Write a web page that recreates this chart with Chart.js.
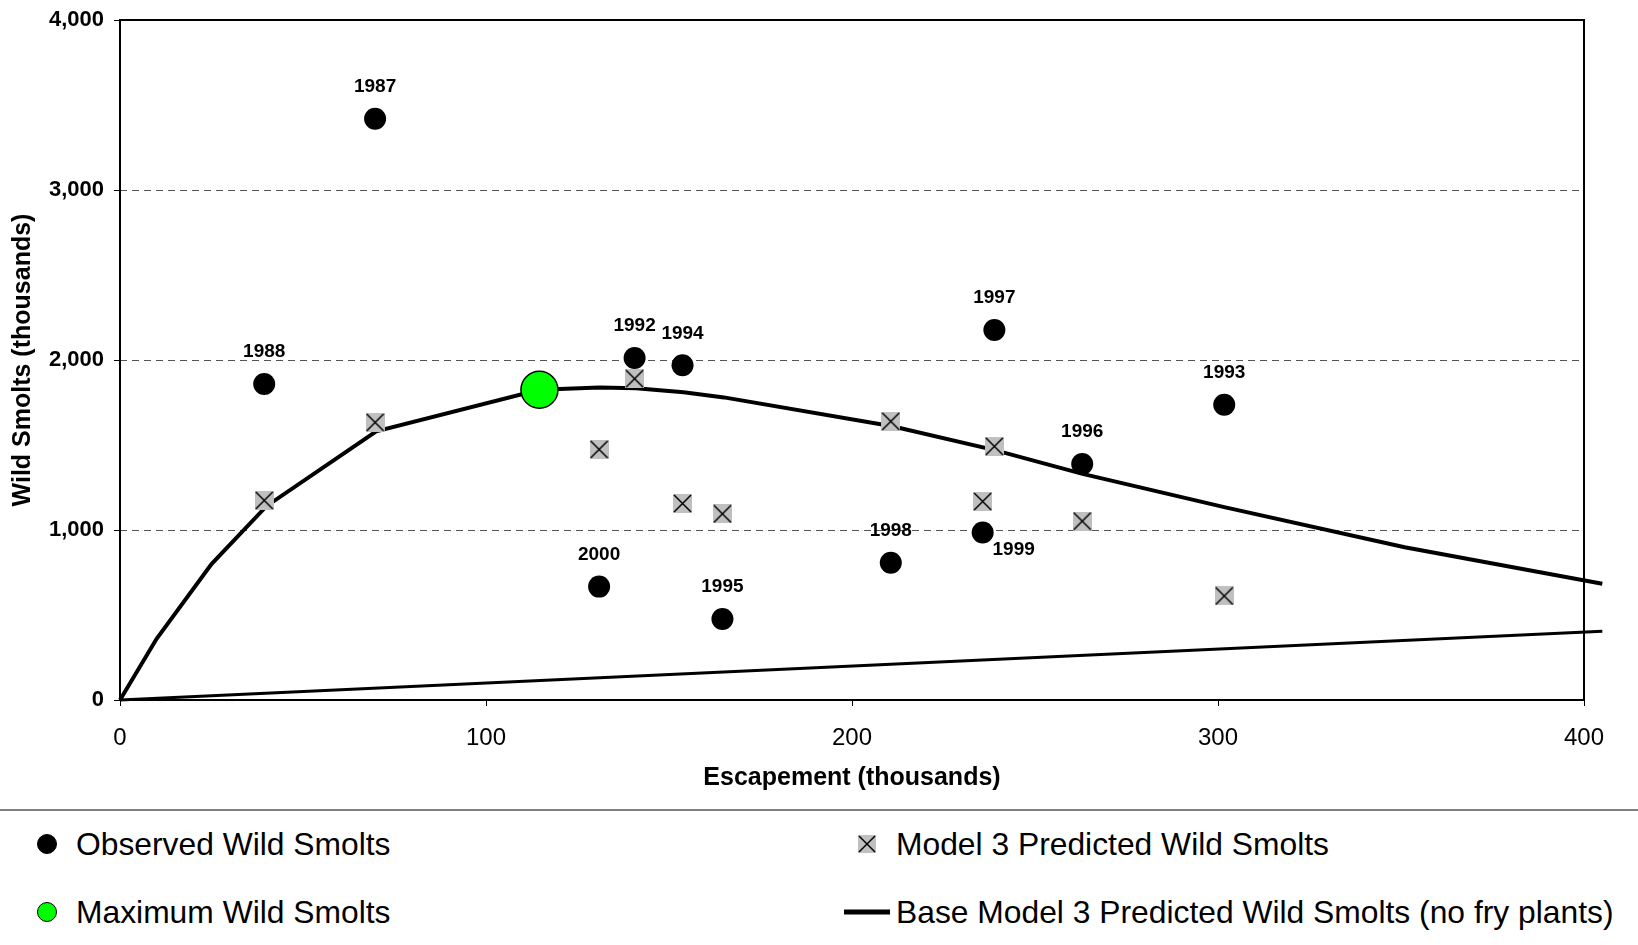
<!DOCTYPE html>
<html>
<head>
<meta charset="utf-8">
<title>Wild smolts vs escapement</title>
<script src="https://cdn.jsdelivr.net/npm/chart.js@4.4.1/dist/chart.umd.min.js"></script>
<style>
    body { margin: 0; background: #fff; font-family: "Liberation Sans", Arial, sans-serif; }
    #wrap { position: relative; width: 1638px; height: 945px; overflow: hidden; }
    #chartBox { position: absolute; left: 0; top: 0; width: 1638px; height: 800px; }
    #sep { position: absolute; left: 0; top: 809px; width: 1638px; height: 2px; background: #808080; }
    .mark { position: absolute; transform: translate(-50%, -50%); }
    .legText { position: absolute; transform: translateY(-50%); font-size: 31.8px; color: #000; white-space: nowrap; }
</style>
</head>
<body>
<div id="wrap">
    <div id="chartBox"><canvas id="smoltChart"></canvas></div>
    <div id="sep"></div>
    <div id="legend"></div>
</div>
<script>
// brood years and their observed / predicted values (thousands)
const years = ['1988', '1987', '2000', '1992', '1994', '1995', '1998', '1999', '1997', '1996', '1993'];
const escapement = [39.4, 69.7, 130.9, 140.6, 153.7, 164.6, 210.6, 235.7, 238.9, 262.9, 301.7];
const observedSmolts = [1859, 3419, 667, 2012, 1969, 477, 807, 985, 2177, 1388, 1737];
const predictedSmolts = [1174, 1633, 1474, 1890, 1156, 1095, 1639, 1168, 1492, 1052, 612];

// base model curve (no fry plants)
const curveEscapement = [0, 10, 25, 40, 70, 114.6, 131, 141, 154, 165, 211, 239, 263, 302, 351, 405];
const curveSmolts = [0, 360, 800, 1140, 1580, 1825, 1838, 1834, 1810, 1780, 1610, 1470, 1330, 1133, 899, 684];

// maximum point
const maxEscapement = [114.6];
const maxSmolts = [1825];

// replacement line
const replacementEscapement = [0, 405];
const replacementSmolts = [0, 405];

const xTicks = [0, 100, 200, 300, 400];
const yTicks = [0, 1000, 2000, 3000, 4000];

const seriesLabels = ['Observed Wild Smolts', 'Model 3 Predicted Wild Smolts',
    'Maximum Wild Smolts', 'Base Model 3 Predicted Wild Smolts (no fry plants)'];

function toPoints(xs, ys) {
    return xs.map((x, i) => ({ x: x, y: ys[i] }));
}

// gray square with a black X, used as the predicted marker
function makeCrossBox(size) {
    const c = document.createElement('canvas');
    c.width = size;
    c.height = size;
    const g = c.getContext('2d');
    g.fillStyle = '#c0c0c0';
    g.fillRect(0, 0, size, size);
    g.strokeStyle = '#000';
    g.lineWidth = 1.5;
    g.beginPath();
    g.moveTo(1, 1); g.lineTo(size - 1, size - 1);
    g.moveTo(size - 1, 1); g.lineTo(1, size - 1);
    g.stroke();
    return c;
}
const crossBox = makeCrossBox(19);

const framePlugin = {
    id: 'frame',
    beforeDatasetsDraw(chart) {
        const a = chart.chartArea;
        const ctx = chart.ctx;
        ctx.save();
        ctx.strokeStyle = '#000';
        ctx.lineWidth = 2;
        ctx.strokeRect(a.left, a.top, a.right - a.left, a.bottom - a.top);
        ctx.restore();
    }
};

const yearLabelPlugin = {
    id: 'yearLabels',
    afterDatasetsDraw(chart) {
        const meta = chart.getDatasetMeta(0);
        const ctx = chart.ctx;
        ctx.save();
        ctx.font = 'bold 19px "Liberation Sans", Arial, sans-serif';
        ctx.fillStyle = '#000';
        ctx.textAlign = 'center';
        ctx.textBaseline = 'middle';
        meta.data.forEach((pt, i) => {
            let dx = 0, dy = -32;
            if (years[i] === '1999') { dx = 31; dy = 17; }
            ctx.fillText(years[i], pt.x + dx, pt.y + dy);
        });
        ctx.restore();
    }
};

new Chart(document.getElementById('smoltChart'), {
    type: 'scatter',
    data: {
        datasets: [
            {
                label: seriesLabels[0],
                data: toPoints(escapement, observedSmolts),
                pointRadius: 11,
                pointBackgroundColor: '#000',
                pointBorderColor: '#000',
                pointBorderWidth: 0,
                order: 1
            },
            {
                label: seriesLabels[1],
                data: toPoints(escapement, predictedSmolts),
                pointStyle: crossBox,
                order: 2
            },
            {
                label: seriesLabels[2],
                data: toPoints(maxEscapement, maxSmolts),
                pointRadius: 18.5,
                pointBackgroundColor: '#00ff00',
                pointBorderColor: '#000',
                pointBorderWidth: 1.5,
                order: 0
            },
            {
                label: seriesLabels[3],
                data: toPoints(curveEscapement, curveSmolts),
                showLine: true,
                borderColor: '#000',
                borderWidth: 4,
                pointRadius: 0,
                tension: 0,
                clip: false,
                order: 3
            },
            {
                label: 'Replacement',
                data: toPoints(replacementEscapement, replacementSmolts),
                showLine: true,
                borderColor: '#000',
                borderWidth: 3,
                pointRadius: 0,
                clip: false,
                order: 4
            }
        ]
    },
    options: {
        responsive: true,
        maintainAspectRatio: false,
        animation: false,
        layout: { padding: { top: 16, right: 54, left: 0, bottom: 0 } },
        plugins: {
            legend: { display: false },
            tooltip: { enabled: false }
        },
        scales: {
            x: {
                type: 'linear',
                min: 0,
                max: 400,
                afterBuildTicks: scale => { scale.ticks = xTicks.map(v => ({ value: v })); },
                afterFit: scale => { scale.height = 100; },
                grid: { drawOnChartArea: false, drawTicks: true, tickLength: 6, tickColor: '#000' },
                border: { display: false },
                ticks: {
                    color: '#000',
                    padding: 18,
                    font: { family: '"Liberation Sans", Arial, sans-serif', size: 24 },
                    maxRotation: 0
                },
                title: {
                    display: true,
                    text: 'Escapement (thousands)',
                    color: '#000',
                    padding: { top: 4, bottom: 7 },
                    font: { family: '"Liberation Sans", Arial, sans-serif', size: 25, weight: 'bold' }
                }
            },
            y: {
                type: 'linear',
                min: 0,
                max: 4000,
                afterBuildTicks: scale => { scale.ticks = yTicks.map(v => ({ value: v })); },
                afterFit: scale => {
                    scale.width = 120;
                    scale.paddingTop = 0;
                    scale.paddingBottom = 0;
                },
                grid: {
                    color: ctx => (ctx.tick && (ctx.tick.value === 0 || ctx.tick.value === 4000)) ? 'rgba(0,0,0,0)' : '#555',
                    lineWidth: 1,
                    drawTicks: true,
                    tickLength: 6,
                    tickColor: '#000',
                    tickBorderDash: []
                },
                border: { display: false, dash: [7, 5] },
                ticks: {
                    color: '#000',
                    padding: 10,
                    font: { family: '"Liberation Sans", Arial, sans-serif', size: 22, weight: 'bold', lineHeight: 0.8 },
                    callback: v => v.toLocaleString('en-US')
                },
                title: {
                    display: true,
                    text: 'Wild Smolts (thousands)',
                    color: '#000',
                    padding: { top: 8, bottom: 4 },
                    font: { family: '"Liberation Sans", Arial, sans-serif', size: 25, weight: 'bold' }
                }
            }
        }
    },
    plugins: [framePlugin, yearLabelPlugin]
});

// legend below the separator line
const legend = document.getElementById('legend');
const legendItems = [
    { label: seriesLabels[0], kind: 'dot', color: '#000', mx: 47, tx: 76, cy: 844 },
    { label: seriesLabels[1], kind: 'cross', mx: 867, tx: 896, cy: 844 },
    { label: seriesLabels[2], kind: 'dot', color: '#00ff00', mx: 47, tx: 76, cy: 912 },
    { label: seriesLabels[3], kind: 'line', mx: 867, tx: 896, cy: 912 }
];
legendItems.forEach(item => {
    let m;
    if (item.kind === 'dot') {
        m = document.createElement('div');
        m.style.width = '18px';
        m.style.height = '18px';
        m.style.borderRadius = '50%';
        m.style.background = item.color;
        m.style.border = '1.5px solid #000';
    } else if (item.kind === 'cross') {
        m = makeCrossBox(18);
    } else {
        m = document.createElement('div');
        m.style.width = '46px';
        m.style.height = '5px';
        m.style.background = '#000';
    }
    m.className = 'mark';
    m.style.left = item.mx + 'px';
    m.style.top = item.cy + 'px';
    legend.appendChild(m);
    const t = document.createElement('span');
    t.className = 'legText';
    t.textContent = item.label;
    t.style.left = item.tx + 'px';
    t.style.top = item.cy + 'px';
    legend.appendChild(t);
});
</script>
</body>
</html>
